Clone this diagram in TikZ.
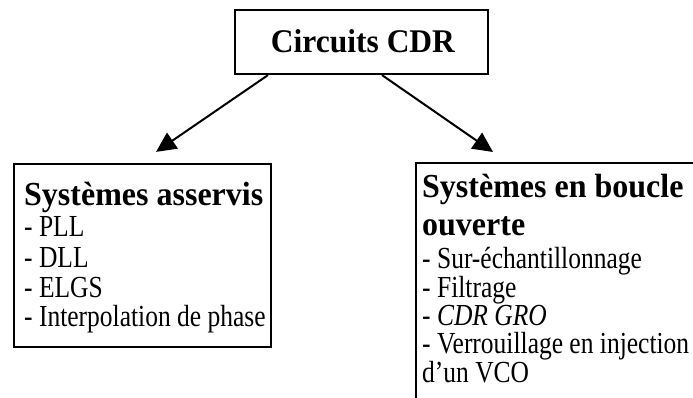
\documentclass[tikz,border=0pt]{standalone}
\usepackage{fontspec}
\setmainfont{Liberation Serif}
\usetikzlibrary{arrows.meta}
\newcommand{\vstretch}[1]{\scalebox{1}[1.2]{#1}}
\newcommand{\tstretch}[1]{\scalebox{1}[1.05]{#1}}
\begin{document}
\begin{tikzpicture}[x=1pt,y=-1pt,
  boxnode/.style={draw=black,line width=2.2pt,inner sep=0pt,fill=none},
  titletext/.style={anchor=base west,inner sep=0pt,font=\fontsize{32}{38}\selectfont\bfseries},
  bodytext/.style={anchor=base west,inner sep=0pt,font=\fontsize{25.5}{30}\selectfont},
  arr/.style={line width=2pt,-{Triangle[length=20pt,width=19pt]}}]
\useasboundingbox (0,0) rectangle (693,398);
\clip (0,0) rectangle (693,398);
% boxes
\node[boxnode,minimum width=253pt,minimum height=64pt] (top) at (361.5,42) {};
\node[boxnode,minimum width=257pt,minimum height=183pt] (lbox) at (142.5,255.5) {};
\node[boxnode,minimum width=300pt,minimum height=260pt,anchor=north west] (rbox) at (415,162) {};
% texts
\node[anchor=base,inner sep=0pt,font=\fontsize{31.5}{38}\selectfont\bfseries] (toptext) at (363,53) {\tstretch{Circuits CDR}};
\node[titletext] (lt) at (24,205) {\tstretch{Systèmes asservis}};
\node[bodytext] (l1) at (24,236) {\vstretch{- PLL}};
\node[bodytext] (l2) at (24,267) {\vstretch{- DLL}};
\node[bodytext] (l3) at (24,297) {\vstretch{- ELGS}};
\node[bodytext] (l4) at (24,326) {\vstretch{- Interpolation de phase}};
\node[titletext] (rt1) at (422,197) {\tstretch{Systèmes en boucle}};
\node[titletext] (rt2) at (422,235) {\tstretch{ouverte}};
\node[bodytext] (r1) at (422,268) {\vstretch{- Sur-échantillonnage}};
\node[bodytext] (r2) at (422,297) {\vstretch{- Filtrage}};
\node[bodytext] (r3) at (422,325) {\vstretch{- \textit{CDR GRO}}};
\node[bodytext] (r4) at (422,353) {\vstretch{- Verrouillage en injection}};
\node[bodytext] (r5) at (422,382) {\vstretch{d’un VCO}};
% arrows
\draw[arr] ([xshift=-93.5pt]top.south) -- ([xshift=13.5pt,yshift=11pt]lbox.north);
\draw[arr] ([xshift=20.5pt]top.south) -- ([xshift=78pt,yshift=10pt]rbox.north west);
\end{tikzpicture}
\end{document}
